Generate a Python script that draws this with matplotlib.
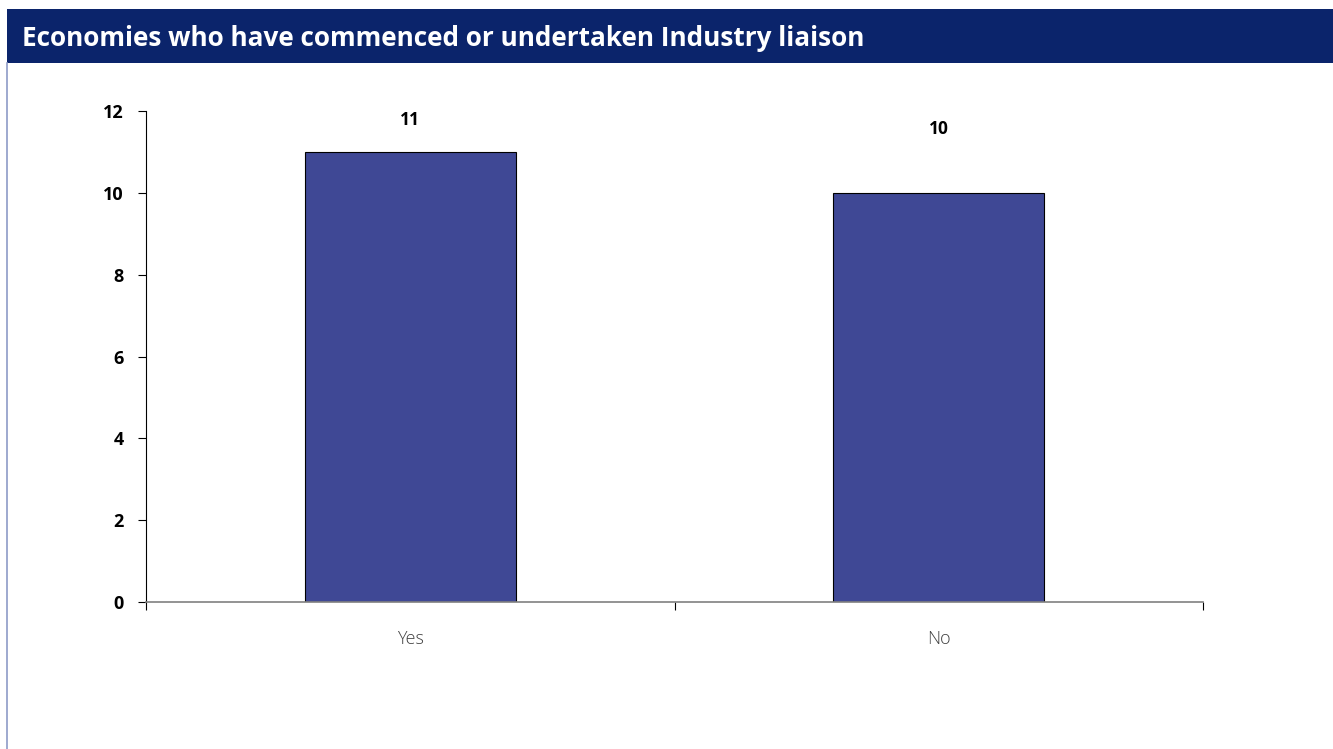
import matplotlib

matplotlib.use("Agg")

import matplotlib.pyplot as plt
from matplotlib.patches import Rectangle
from matplotlib.lines import Line2D


categories = ["Yes", "No"]
counts = [11, 10]
label_offsets = [32, 64]

title = "Economies who have commenced or undertaken Industry liaison"


plt.rcParams["font.family"] = ["Open Sans", "DejaVu Sans"]

fig = plt.figure(
    figsize=(13.33, 7.49),
    dpi=100
)

# header band and left frame line
fig.add_artist(
    Rectangle(
        (7 / 1333, 1 - 63 / 749),
        1 - 7 / 1333,
        54 / 749,
        transform=fig.transFigure,
        facecolor="#0B246B",
        edgecolor="none"
    )
)

fig.add_artist(
    Line2D(
        [7.5 / 1333, 7.5 / 1333],
        [0, 1 - 63 / 749],
        transform=fig.transFigure,
        color="#8E9BC7",
        linewidth=1.2
    )
)

fig.text(
    22 / 1333,
    1 - 39 / 749,
    title,
    color="white",
    fontsize=18.8,
    fontweight="bold",
    va="center",
    ha="left"
)


ax = fig.add_axes([146 / 1333, 1 - 602 / 749, 1057 / 1333, 491 / 749])

x = list(range(len(categories)))

bars = ax.bar(
    x,
    counts,
    width=0.4,
    color="#3F4895",
    edgecolor="black",
    linewidth=0.8
)

for rect, val, off in zip(bars, counts, label_offsets):
    ax.annotate(
        str(val),
        (rect.get_x() + rect.get_width() / 2, rect.get_height()),
        xytext=(0, off * 0.72),
        textcoords="offset points",
        ha="center",
        va="center",
        fontsize=12.5,
        fontweight="bold"
    )

ax.set_xlim(-0.5, len(categories) - 0.5)
ax.set_ylim(0, 12)
ax.set_yticks(range(0, 13, 2))

ax.set_xticks([i - 0.5 for i in range(len(categories) + 1)])
ax.set_xticklabels([])
ax.set_xticks(x, minor=True)
ax.set_xticklabels(categories, minor=True, fontsize=13, color="#404040", fontweight="light")

ax.tick_params(axis="x", which="minor", length=0, pad=20)
ax.tick_params(axis="x", which="major", length=6, direction="out", color="black", width=0.8)
ax.tick_params(axis="y", length=6, direction="out", width=0.8, pad=10, labelsize=13)

for lab in ax.get_yticklabels():
    lab.set_fontweight("bold")

ax.spines["top"].set_visible(False)
ax.spines["right"].set_visible(False)
ax.spines["left"].set_color("black")
ax.spines["left"].set_linewidth(0.8)
ax.spines["bottom"].set_color("#808080")
ax.spines["bottom"].set_linewidth(1.2)

plt.savefig("out.png", dpi=100)
plt.close()
